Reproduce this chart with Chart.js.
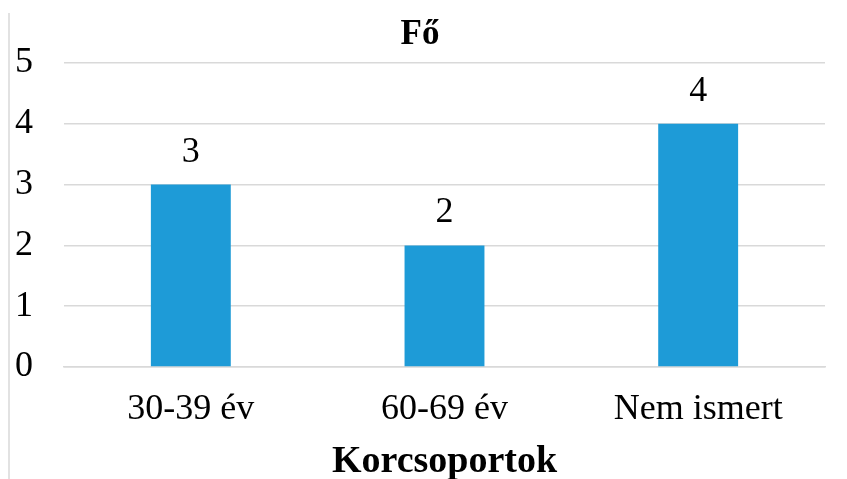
<!DOCTYPE html>
<html>
<head>
<meta charset="utf-8">
<script src="https://cdn.jsdelivr.net/npm/chart.js@4/dist/chart.umd.min.js"></script>
<style>
  html, body { margin: 0; padding: 0; background: #fff; }
  #wrap { width: 847px; height: 479px; position: relative; }
</style>
</head>
<body>
<div id="wrap"><canvas id="chart"></canvas></div>
<script>
const categories = ['30-39 év', '60-69 év', 'Nem ismert'];
const counts = [3, 2, 4];
const yTicks = [0, 1, 2, 3, 4, 5];

const BAR_COLOR = '#1E9BD7';
const GRID = '#d9d9d9';
const FONT = '"Liberation Serif", "Times New Roman", serif';

// value labels above bars + thin border line on the left
const valueLabels = {
  id: 'valueLabels',
  afterDatasetsDraw(chart) {
    const ctx = chart.ctx;
    const meta = chart.getDatasetMeta(0);
    ctx.save();
    ctx.font = '36px ' + FONT;
    ctx.fillStyle = '#000';
    ctx.textAlign = 'center';
    ctx.textBaseline = 'alphabetic';
    meta.data.forEach((bar, i) => {
      ctx.fillText(String(counts[i]), bar.x, bar.y - 23);
    });
    ctx.restore();
  },
  afterDraw(chart) {
    const ctx = chart.ctx;
    ctx.save();
    ctx.strokeStyle = '#d9d9d9';
    ctx.lineWidth = 1.5;
    ctx.beginPath();
    ctx.moveTo(9, 13);
    ctx.lineTo(9, chart.height);
    ctx.stroke();
    ctx.restore();
  }
};

new Chart(document.getElementById('chart'), {
  type: 'bar',
  data: {
    labels: categories,
    datasets: [{
      data: counts,
      backgroundColor: BAR_COLOR,
      categoryPercentage: 1,
      barPercentage: 0.315
    }]
  },
  options: {
    responsive: true,
    maintainAspectRatio: false,
    animation: false,
    layout: { padding: { left: 15, right: 22, top: 0, bottom: 0 } },
    plugins: {
      legend: { display: false },
      tooltip: { enabled: false },
      title: {
        display: true,
        text: 'Fő',
        color: '#000',
        font: { family: FONT, size: 35, weight: 'bold' },
        padding: { top: 14, bottom: 7 }
      }
    },
    scales: {
      x: {
        afterFit(scale) { scale.height = 112; },
        grid: { display: false, drawTicks: false },
        border: { color: GRID, width: 1.5 },
        ticks: { color: '#000', font: { family: FONT, size: 36 }, padding: 21 },
        title: {
          display: true,
          text: 'Korcsoportok',
          color: '#000',
          font: { family: FONT, size: 38, weight: 'bold', lineHeight: 1 },
          padding: { top: 0, bottom: -2 }
        }
      },
      y: {
        min: 0,
        max: 5,
        afterBuildTicks(scale) { scale.ticks = yTicks.map(v => ({ value: v })); },
        afterFit(scale) { scale.width = 49; },
        grid: { color: GRID, lineWidth: 1.5, drawTicks: false },
        border: { display: false },
        ticks: {
          color: '#000',
          font: { family: FONT, size: 36 },
          padding: 10,
          crossAlign: 'far'
        }
      }
    }
  },
  plugins: [valueLabels]
});
</script>
</body>
</html>
